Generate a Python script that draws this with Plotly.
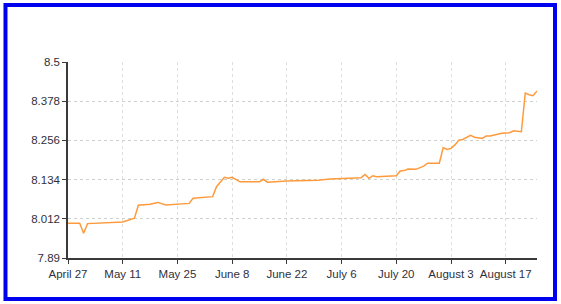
import plotly.graph_objects as go
import datetime as dt

start = dt.date(2009, 4, 27)
day_offsets = [0, 3, 4, 5, 14, 16, 17, 18, 21, 23, 25, 31, 32, 37, 38, 40, 41, 42, 44, 49, 50, 51,
               56, 64, 67, 72, 75, 76, 77, 78, 79, 84, 85, 86, 87, 89, 90, 91, 92, 95, 96, 97, 98,
               99, 100, 101, 103, 104, 106, 107, 108, 110, 111, 113, 114, 116, 117, 118, 119, 120]
values = [7.998, 7.998, 7.967, 7.997, 8.002, 8.010, 8.014, 8.054, 8.057, 8.063, 8.055, 8.060,
          8.076, 8.081, 8.112, 8.141, 8.138, 8.141, 8.127, 8.127, 8.135, 8.126, 8.130, 8.132,
          8.136, 8.138, 8.140, 8.150, 8.138, 8.146, 8.143, 8.146, 8.161, 8.162, 8.167, 8.166,
          8.171, 8.176, 8.185, 8.185, 8.234, 8.228, 8.231, 8.242, 8.257, 8.259, 8.272, 8.266,
          8.262, 8.270, 8.270, 8.275, 8.278, 8.280, 8.286, 8.283, 8.403, 8.398, 8.395, 8.410]
dates = [start + dt.timedelta(days=d) for d in day_offsets]

x_tick_labels = ["April 27", "May 11", "May 25", "June 8", "June 22", "July 6",
                 "July 20", "August 3", "August 17"]
x_tick_dates = [start + dt.timedelta(days=14 * i) for i in range(len(x_tick_labels))]
y_ticks = [7.89, 8.012, 8.134, 8.256, 8.378, 8.5]
y_tick_labels = ["7.89", "8.012", "8.134", "8.256", "8.378", "8.5"]
x_end = start + dt.timedelta(days=120)

fig = go.Figure()
fig.add_trace(go.Scatter(x=dates, y=values, mode="lines",
                         line=dict(color="#FF9A3C", width=1.5), hoverinfo="skip"))

font = dict(family="Liberation Sans Narrow, Arial Narrow, Liberation Sans, Arial", size=11.5, color="#30303c")

fig.update_layout(
    width=561, height=304,
    margin=dict(l=68, r=24, t=62, b=46),
    paper_bgcolor="white", plot_bgcolor="white",
    showlegend=False,
    font=font,
    xaxis=dict(type="date", range=[start, x_end], tickvals=x_tick_dates, ticktext=x_tick_labels,
               showgrid=True, gridcolor="#dcdfdc", griddash="dot", gridwidth=1,
               showline=True, linecolor="#3a3a3a", linewidth=1.5,
               ticks="outside", ticklen=4, tickcolor="#3a3a3a", tickfont=font, zeroline=False),
    yaxis=dict(range=[7.89, 8.5], tickvals=y_ticks, ticktext=y_tick_labels,
               showgrid=True, gridcolor="#cdd1cd", griddash="dot", gridwidth=1,
               showline=True, linecolor="#3a3a3a", linewidth=1.5,
               ticks="outside", ticklen=4, tickcolor="#3a3a3a", tickfont=font, zeroline=False),
    shapes=[dict(type="rect", xref="paper", yref="paper",
                 x0=-0.1333, x1=1.0384, y0=-0.2092, y1=1.2908,
                 line=dict(color="#0000F0", width=4), fillcolor="rgba(0,0,0,0)")],
)

fig.write_html("out.html")
